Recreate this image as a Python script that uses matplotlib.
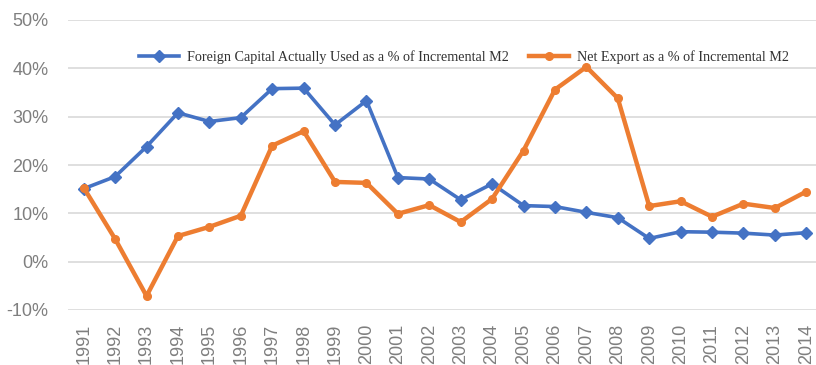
import numpy as np
import matplotlib
matplotlib.use("Agg")
import matplotlib.pyplot as plt
from matplotlib.ticker import FuncFormatter

# Tahun dan rasio (%) terhadap pertambahan M2
years = list(range(1991, 2015))
foreign_capital = [15.1, 17.6, 23.8, 30.8, 29.0, 29.8, 35.8, 35.9, 28.3, 33.3,
                   17.4, 17.1, 12.8, 16.1, 11.6, 11.4, 10.2, 9.1, 4.8, 6.2,
                   6.1, 5.9, 5.5, 6.0]
net_export = [15.3, 4.7, -7.1, 5.3, 7.2, 9.5, 24.0, 27.0, 16.5, 16.3,
              9.9, 11.7, 8.2, 13.0, 23.0, 35.6, 40.3, 33.8, 11.5, 12.5,
              9.3, 12.0, 11.1, 14.5]
y_ticks = [-10, 0, 10, 20, 30, 40, 50]

blue = "#4472C4"
orange = "#ED7D31"
tick_color = "#7f7f7f"

fig = plt.figure(figsize=(8.16, 3.65), dpi=100)
ax = fig.add_axes([68 / 816, 55 / 365, 754 / 816, 290 / 365])

x = np.arange(len(years))
ax.plot(x, foreign_capital, color=blue, linewidth=2.6, marker="D", markersize=6.5,
        label="Foreign Capital Actually Used as a % of Incremental M2", zorder=3)
ax.plot(x, net_export, color=orange, linewidth=3.2, marker="o", markersize=5.5,
        label="Net Export as a % of Incremental M2", zorder=4)

ax.set_xlim(-0.5, len(years) - 0.5)
ax.set_ylim(-10, 50)
ax.set_yticks(y_ticks)
ax.yaxis.set_major_formatter(FuncFormatter(lambda v, p: f"{v:.0f}%"))
ax.set_xticks(x)
ax.set_xticklabels([str(y) for y in years], rotation=90)

ax.grid(axis="y", color="#d9d9d9", linewidth=1.2)
ax.set_axisbelow(True)
for s in ax.spines.values():
    s.set_visible(False)
ax.tick_params(axis="both", length=0, colors=tick_color, labelsize=13)
ax.tick_params(axis="y", pad=14)
ax.tick_params(axis="x", pad=10)
for lbl in ax.get_xticklabels() + ax.get_yticklabels():
    lbl.set_fontfamily("Liberation Sans")

leg = fig.legend(loc="center", bbox_to_anchor=(464 / 816, 1 - 57 / 365), ncol=2,
                 frameon=False, prop={"family": "Liberation Serif", "size": 10.2},
                 handlelength=2.8, columnspacing=1.4, handletextpad=0.6)
for t in leg.get_texts():
    t.set_color("#333333")

fig.savefig("out.png", dpi=100)
